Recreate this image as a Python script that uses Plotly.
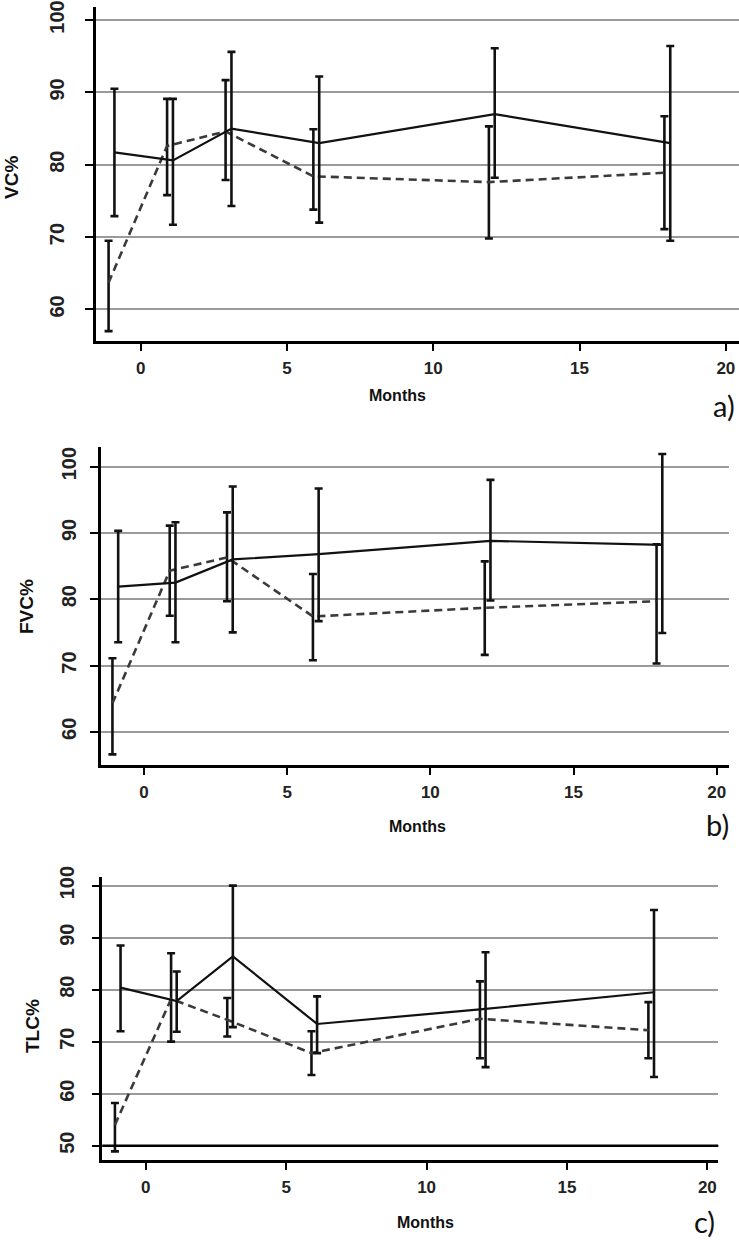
import plotly.graph_objects as go

months = [-1, 1, 3, 6, 12, 18]

# Panel a) VC%
vc_solid_mean = [81.7, 80.6, 85.0, 83.0, 87.0, 83.0]
vc_solid_upper = [90.5, 89.1, 95.6, 92.2, 96.1, 96.4]
vc_solid_lower = [72.9, 71.7, 74.3, 72.0, 78.2, 69.5]
vc_dash_mean = [63.7, 82.6, 84.6, 78.4, 77.6, 78.9]
vc_dash_upper = [69.5, 89.1, 91.7, 84.9, 85.3, 86.7]
vc_dash_lower = [57.0, 75.8, 77.9, 73.8, 69.8, 71.1]

# Panel b) FVC%
fvc_solid_mean = [81.9, 82.5, 86.0, 86.8, 88.8, 88.2]
fvc_solid_upper = [90.3, 91.6, 97.0, 96.7, 98.0, 101.9]
fvc_solid_lower = [73.5, 73.5, 75.0, 76.7, 79.8, 74.9]
fvc_dash_mean = [64.3, 84.3, 86.3, 77.4, 78.7, 79.7]
fvc_dash_upper = [71.1, 91.1, 93.1, 83.8, 85.7, 88.3]
fvc_dash_lower = [56.6, 77.5, 79.7, 70.8, 71.6, 70.3]

# Panel c) TLC%
tlc_solid_mean = [80.4, 77.8, 86.4, 73.4, 76.3, 79.5]
tlc_solid_upper = [88.5, 83.5, 100.0, 78.7, 87.2, 95.3]
tlc_solid_lower = [72.0, 71.9, 72.8, 67.8, 65.1, 63.2]
tlc_dash_mean = [54.0, 78.2, 74.2, 67.8, 74.4, 72.2]
tlc_dash_upper = [58.2, 87.0, 78.4, 72.0, 81.6, 77.6]
tlc_dash_lower = [48.9, 70.0, 71.0, 63.6, 66.8, 66.8]

x_ticks = [0, 5, 10, 15, 20]

W, H = 739, 1240
DODGE = 0.1

panels = [
    dict(key="", ylabel="VC%", tag="a)",
         solid=(vc_solid_mean, vc_solid_upper, vc_solid_lower),
         dash=(vc_dash_mean, vc_dash_upper, vc_dash_lower),
         px_left=96, px_right=739, px_top=7, px_bot=341.3,
         xr=[-1.53, 20.45], yr=[55.6, 101.8], yt=[60, 70, 80, 90, 100],
         ylab_pos=(11, 178), months_pos=(397, 395), tag_pos=(724, 405), ystand=13),
    dict(key="2", ylabel="FVC%", tag="b)",
         solid=(fvc_solid_mean, fvc_solid_upper, fvc_solid_lower),
         dash=(fvc_dash_mean, fvc_dash_upper, fvc_dash_lower),
         px_left=101, px_right=729.3, px_top=446.7, px_bot=765,
         xr=[-1.5, 20.44], yr=[55.0, 103.0], yt=[60, 70, 80, 90, 100],
         ylab_pos=(26, 607), months_pos=(418, 826), tag_pos=(717, 824), ystand=6),
    dict(key="3", ylabel="TLC%", tag="c)",
         solid=(tlc_solid_mean, tlc_solid_upper, tlc_solid_lower),
         dash=(tlc_dash_mean, tlc_dash_upper, tlc_dash_lower),
         px_left=102.3, px_right=718.3, px_top=877.3, px_bot=1160,
         xr=[-1.55, 20.39], yr=[47.25, 101.6], yt=[50, 60, 70, 80, 90, 100],
         ylab_pos=(32, 1026), months_pos=(425, 1222), tag_pos=(704, 1221), ystand=10),
]

fig = go.Figure()
layout = dict(width=W, height=H, margin=dict(l=0, r=0, t=0, b=0, pad=0),
              paper_bgcolor="white", plot_bgcolor="white", showlegend=False)
annotations = []
shapes = []

for p in panels:
    k = p["key"]
    xa, ya = "x" + k, "y" + k
    for style, (mean, up, lo), off in (("dash", p["dash"], -DODGE), ("solid", p["solid"], DODGE)):
        fig.add_trace(go.Scatter(
            x=[m + off for m in months], y=mean, xaxis=xa, yaxis=ya,
            mode="lines",
            line=dict(color="#111111" if style == "solid" else "#3a3a3a",
                      width=2.2 if style == "solid" else 2.6,
                      dash="solid" if style == "solid" else "8px,5px"),
            error_y=dict(type="data", symmetric=False,
                         array=[u - m for u, m in zip(up, mean)],
                         arrayminus=[m - l for m, l in zip(mean, lo)],
                         color="#111111", thickness=2.6, width=4),
            hoverinfo="skip",
        ))
    dom_x = [p["px_left"] / W, p["px_right"] / W]
    dom_y = [1 - p["px_bot"] / H, 1 - p["px_top"] / H]
    layout["xaxis" + k] = dict(
        domain=dom_x, range=p["xr"], anchor=ya, tickvals=x_ticks, automargin=False,
        showline=True, linecolor="black", linewidth=2.5,
        ticks="outside", ticklen=7, tickwidth=2, tickcolor="black",
        showgrid=False, zeroline=False, ticklabelstandoff=3,
        tickfont=dict(family="Liberation Sans", size=17, color="#222222", weight="bold"),
    )
    layout["yaxis" + k] = dict(
        domain=dom_y, range=p["yr"], anchor=xa, tickvals=p["yt"], automargin=False,
        showline=True, linecolor="black", linewidth=2.5,
        ticks="outside", ticklen=8, tickwidth=2, tickcolor="black",
        showgrid=True, gridcolor="#9a9a9a", gridwidth=2, zeroline=False,
        tickangle=-90, ticklabelstandoff=p["ystand"],
        tickfont=dict(family="Liberation Sans", size=20, color="#222222", weight="bold"),
    )
    annotations.append(dict(
        text=p["ylabel"], xref="paper", yref="paper",
        x=p["ylab_pos"][0] / W, y=1 - p["ylab_pos"][1] / H,
        xanchor="center", yanchor="middle", showarrow=False, textangle=-90,
        font=dict(family="Liberation Sans", size=19, color="#111111", weight="bold")))
    annotations.append(dict(
        text="Months", xref="paper", yref="paper",
        x=p["months_pos"][0] / W, y=1 - p["months_pos"][1] / H,
        xanchor="center", yanchor="middle", showarrow=False,
        font=dict(family="Liberation Sans", size=16, color="#111111", weight="bold")))
    annotations.append(dict(
        text=p["tag"], xref="paper", yref="paper",
        x=p["tag_pos"][0] / W, y=1 - p["tag_pos"][1] / H,
        xanchor="center", yanchor="middle", showarrow=False,
        font=dict(family="Lato", size=29, color="#111111")))

# black reference line at 50 in panel c
shapes.append(dict(type="line", xref="x3 domain", yref="y3", x0=0, x1=1, y0=50, y1=50,
                   line=dict(color="black", width=2.5), layer="above"))

layout["annotations"] = annotations
layout["shapes"] = shapes
fig.update_layout(**layout)
fig.write_html(
    "out.html",
    config={"displayModeBar": False},
    post_script=(
        "document.documentElement.style.margin='0';"
        "document.body.style.margin='0';"
        "document.body.style.overflow='hidden';"
        "document.documentElement.style.overflow='hidden';"
        "var gd=document.getElementById('{plot_id}');"
        "gd.style.position='fixed';gd.style.top='0px';gd.style.left='0px';"
    ),
)
